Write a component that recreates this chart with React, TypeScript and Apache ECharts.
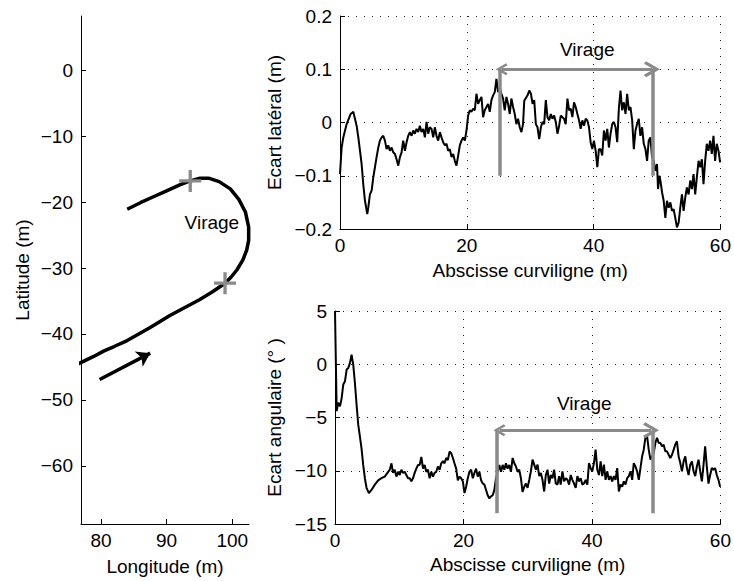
import React, { useEffect, useRef } from "react";
import * as echarts from "echarts";

// ---- Left panel: trajectory (longitude, latitude in m)
const trajLon = [84, 86, 88, 90, 92, 93.6, 95.1, 96.5, 98, 99.7, 101, 102, 102.5, 102.5, 102.2, 101.6, 100.7, 99.8, 98.9, 97, 95, 92, 90.5, 87.5, 84, 82, 80.4, 78.9, 77, 76];
const trajLat = [-21.1, -20.1, -19.2, -18.3, -17.4, -16.8, -16.4, -16.4, -16.9, -18.0, -19.6, -21.5, -23.8, -25.8, -27.3, -28.8, -30.3, -31.4, -32.3, -33.6, -34.8, -36.4, -37.2, -39.0, -41.0, -41.9, -42.6, -43.4, -44.3, -44.8];
const turnMarksLon = [93.6, 98.9];
const turnMarksLat = [-16.8, -32.3];
const dirArrowLon = [79.8, 87.5];
const dirArrowLat = [-46.9, -42.9];
const lonTicks = [80, 90, 100];
const latTicks = [0, -10, -20, -30, -40, -50, -60];

// ---- Top right: lateral deviation (m) vs curvilinear abscissa (m)
const lateralS = [0, 0.26, 0.52, 1.05, 1.68, 2.1, 2.36, 2.62, 2.89, 3.15, 3.41, 3.67, 3.94, 4.3, 4.46, 4.72, 4.99, 5.25, 5.51, 5.77, 6.04, 6.3, 6.56, 6.82, 7.09, 7.35, 7.61, 7.87, 8.14, 8.4, 8.66, 8.92, 9.19, 9.45, 9.71, 9.97, 10.24, 10.5, 10.76, 11.02, 11.29, 11.55, 11.81, 12.07, 12.34, 12.6, 12.86, 13.12, 13.39, 13.65, 13.91, 14.17, 14.44, 14.7, 14.96, 15.22, 15.49, 15.75, 16.01, 16.27, 16.54, 16.8, 17.06, 17.32, 17.59, 17.85, 18.11, 18.37, 18.64, 18.9, 19.16, 19.42, 19.69, 19.95, 20.21, 20.47, 20.73, 21.0, 21.26, 21.52, 21.78, 22.05, 22.31, 22.57, 22.83, 23.1, 23.36, 23.62, 23.88, 24.15, 24.41, 24.67, 24.93, 25.2, 25.46, 25.72, 25.98, 26.25, 26.51, 26.77, 27.03, 27.3, 27.56, 27.82, 28.08, 28.35, 28.61, 28.87, 29.06, 29.58, 29.85, 30.11, 30.37, 30.63, 30.89, 31.15, 31.42, 31.68, 31.94, 32.2, 32.46, 32.72, 32.99, 33.25, 33.51, 33.77, 34.03, 34.3, 34.56, 34.82, 35.08, 35.34, 35.6, 35.87, 36.13, 36.39, 36.65, 36.91, 37.17, 37.44, 37.7, 37.96, 38.22, 38.48, 38.75, 39.01, 39.27, 39.53, 39.79, 40.05, 40.32, 40.58, 40.84, 41.1, 41.36, 41.62, 41.89, 42.15, 42.41, 42.67, 42.93, 43.2, 43.46, 43.72, 43.98, 44.24, 44.5, 44.77, 45.03, 45.29, 45.55, 45.81, 46.08, 46.34, 46.6, 46.86, 47.12, 47.38, 47.65, 47.91, 48.17, 48.43, 48.69, 48.95, 49.22, 49.48, 49.74, 50.0, 50.16, 50.37, 50.53, 50.79, 51.05, 51.31, 51.57, 51.84, 52.1, 52.36, 52.62, 52.88, 53.14, 53.41, 53.67, 53.93, 54.19, 54.45, 54.71, 54.98, 55.24, 55.5, 55.76, 56.02, 56.28, 56.55, 56.81, 57.07, 57.33, 57.59, 57.85, 58.12, 58.38, 58.64, 58.9, 59.16, 59.42, 59.69, 59.95];
const lateralE = [-0.097, -0.047, -0.028, -0.003, 0.016, 0.02, 0.007, -0.006, -0.028, -0.053, -0.078, -0.116, -0.147, -0.172, -0.16, -0.135, -0.128, -0.103, -0.084, -0.065, -0.047, -0.034, -0.028, -0.025, -0.034, -0.05, -0.043, -0.053, -0.047, -0.056, -0.059, -0.069, -0.081, -0.065, -0.056, -0.034, -0.053, -0.037, -0.025, -0.018, -0.025, -0.015, -0.021, -0.012, -0.018, -0.006, -0.018, -0.012, -0.028, 0.001, -0.021, -0.009, -0.012, -0.028, -0.009, -0.025, -0.034, -0.018, -0.028, -0.037, -0.043, -0.04, -0.053, -0.05, -0.065, -0.059, -0.072, -0.081, -0.062, -0.043, -0.034, -0.028, -0.034, -0.015, 0.013, 0.023, 0.02, 0.026, 0.023, 0.054, 0.035, 0.042, 0.048, 0.01, 0.023, 0.029, 0.035, 0.02, 0.042, 0.051, 0.057, 0.082, 0.057, 0.064, 0.054, 0.045, 0.023, 0.048, 0.035, 0.016, 0.045, 0.029, 0.016, -0.003, 0.007, -0.009, -0.018, -0.003, 0.041, 0.051, 0.06, 0.054, 0.035, 0.042, -0.003, -0.009, -0.031, -0.009, 0.001, -0.003, 0.042, 0.01, 0.004, 0.016, 0.007, 0.013, 0.001, -0.021, -0.006, 0.013, 0.01, 0.007, -0.003, 0.045, 0.023, 0.026, 0.01, 0.038, 0.029, 0.016, 0.004, -0.012, 0.004, -0.006, 0.007, 0.004, -0.009, -0.037, -0.05, -0.034, -0.053, -0.084, -0.05, -0.05, -0.062, -0.015, -0.034, -0.012, -0.047, -0.021, -0.003, 0.001, -0.009, -0.037, 0.026, 0.06, 0.023, 0.038, 0.016, 0.054, 0.023, 0.029, 0.004, -0.05, -0.015, -0.003, 0.007, -0.025, -0.009, -0.04, -0.05, -0.072, -0.034, -0.028, -0.065, -0.072, -0.091, -0.078, -0.125, -0.1, -0.109, -0.131, -0.147, -0.179, -0.147, -0.16, -0.15, -0.166, -0.163, -0.179, -0.197, -0.188, -0.16, -0.135, -0.166, -0.141, -0.122, -0.135, -0.109, -0.125, -0.097, -0.135, -0.103, -0.072, -0.084, -0.069, -0.116, -0.072, -0.04, -0.053, -0.034, -0.059, -0.025, -0.072, -0.04, -0.053, -0.075];

// ---- Bottom right: angular deviation (deg) vs curvilinear abscissa (m)
const angularS = [0, 0.26, 0.52, 0.78, 1.03, 1.29, 1.55, 1.81, 2.07, 2.33, 2.58, 2.84, 3.1, 3.36, 3.62, 3.88, 4.13, 4.39, 4.65, 4.91, 5.27, 5.68, 6.2, 6.72, 7.23, 7.75, 8.27, 8.53, 8.79, 9.04, 9.3, 9.56, 9.82, 10.08, 10.34, 10.59, 10.85, 11.11, 11.37, 11.63, 11.89, 12.14, 12.4, 12.66, 12.92, 13.18, 13.44, 13.7, 13.95, 14.21, 14.47, 14.73, 14.99, 15.25, 15.5, 15.76, 16.02, 16.28, 16.54, 16.8, 17.05, 17.31, 17.57, 17.83, 18.09, 18.35, 18.6, 18.86, 19.12, 19.38, 19.64, 19.9, 20.16, 20.41, 20.67, 20.93, 21.19, 21.45, 21.71, 21.96, 22.22, 22.48, 22.74, 23.0, 23.26, 23.51, 23.77, 24.03, 24.29, 24.55, 24.81, 25.06, 25.58, 25.84, 26.1, 26.36, 26.61, 26.87, 27.13, 27.39, 27.65, 27.91, 28.17, 28.42, 28.68, 28.94, 29.2, 29.46, 29.72, 29.98, 30.24, 30.49, 30.75, 31.01, 31.27, 31.53, 31.79, 32.04, 32.3, 32.56, 32.82, 33.08, 33.34, 33.59, 33.85, 34.11, 34.37, 34.63, 34.89, 35.14, 35.4, 35.66, 35.92, 36.18, 36.44, 36.7, 36.95, 37.21, 37.47, 37.73, 37.99, 38.25, 38.5, 38.76, 39.02, 39.28, 39.54, 39.8, 40.05, 40.31, 40.57, 40.83, 41.09, 41.35, 41.6, 41.86, 42.12, 42.38, 42.64, 42.9, 43.15, 43.41, 43.67, 43.93, 44.19, 44.45, 44.71, 44.96, 45.22, 45.48, 45.74, 46.0, 46.26, 46.51, 46.77, 47.03, 47.29, 47.55, 47.81, 48.06, 48.32, 48.58, 48.84, 49.1, 49.62, 49.87, 50.13, 50.39, 50.65, 50.91, 51.17, 51.42, 51.68, 51.94, 52.2, 52.46, 52.72, 52.97, 53.23, 53.49, 53.75, 54.01, 54.27, 54.53, 54.78, 55.04, 55.3, 55.56, 55.82, 56.08, 56.33, 56.59, 56.85, 57.11, 57.37, 57.62, 57.88, 58.14, 58.4, 58.66, 58.92, 59.17, 59.43, 59.69, 59.95];
const angularE = [5.0, -4.4, -3.6, -3.95, -3.2, -1.9, -1.6, -0.5, -0.35, 0.13, 0.9, -0.03, -1.76, -3.8, -5.7, -6.8, -7.9, -9.45, -10.7, -11.6, -12.1, -11.8, -11.3, -10.9, -10.7, -10.55, -10.1, -9.9, -9.3, -10.2, -9.9, -10.55, -10.1, -10.4, -9.9, -10.2, -10.1, -10.4, -10.7, -10.7, -11.0, -10.7, -10.2, -9.8, -9.45, -9.45, -8.7, -9.8, -9.45, -10.1, -9.9, -10.7, -10.1, -10.55, -10.2, -10.1, -9.6, -9.9, -9.3, -9.1, -9.3, -8.8, -9.0, -8.2, -8.35, -8.8, -9.3, -9.8, -10.9, -10.55, -10.7, -11.0, -12.1, -11.5, -10.7, -10.1, -9.9, -10.7, -10.2, -9.8, -10.55, -10.1, -10.9, -11.2, -11.3, -11.8, -12.3, -12.6, -12.4, -12.3, -11.8, -10.7, -9.45, -10.1, -9.45, -9.9, -9.3, -9.8, -9.45, -10.1, -8.8, -9.3, -9.6, -10.1, -9.9, -10.7, -12.0, -11.5, -11.2, -11.6, -10.85, -10.06, -8.96, -9.43, -9.9, -9.43, -10.5, -10.2, -10.85, -11.95, -10.4, -9.9, -11.2, -10.4, -10.7, -9.9, -11.2, -11.3, -10.5, -11.3, -10.06, -11.0, -10.7, -10.85, -11.3, -10.4, -10.85, -11.2, -11.6, -10.5, -11.0, -10.7, -11.3, -11.2, -10.85, -11.3, -9.28, -9.75, -10.06, -9.28, -8.02, -9.9, -10.4, -9.12, -10.5, -9.43, -10.85, -10.06, -10.85, -10.5, -11.0, -10.5, -10.85, -9.75, -11.95, -11.3, -11.5, -11.0, -11.3, -10.7, -10.5, -10.06, -10.85, -9.28, -9.6, -10.06, -10.85, -9.75, -8.65, -8.02, -6.9, -6.76, -8.02, -8.96, -8.33, -7.4, -6.9, -7.4, -7.4, -7.7, -7.55, -8.18, -8.18, -8.5, -8.8, -8.5, -8.02, -7.55, -7.23, -8.65, -9.28, -10.06, -9.12, -8.65, -9.75, -10.4, -9.43, -9.12, -10.06, -10.5, -9.6, -8.96, -10.06, -11.0, -9.43, -7.7, -9.6, -11.2, -10.4, -9.75, -9.9, -9.75, -10.4, -10.85, -11.5];

// ---- "Virage" (turn) annotations
const turnStart = 25.2;
const turnEnd = 49.4;
const lateralBracket = [0.1, -0.1];
const angularBracket = [-6.2, -14];
const turnLabel = "Virage";

const FONT = '"Liberation Sans", Arial, Helvetica, sans-serif';
const GRAY = "#8a8a8a";
const CHEVRON = "path://M5,0 L10,8 L8.4,9.2 L5,3.6 L1.6,9.2 L0,8 Z";
const PLUS = "path://M8.5,0 H11.5 V8.5 H20 V11.5 H11.5 V20 H8.5 V11.5 H0 V8.5 H8.5 Z";

const fmt = (v: number) => {
  const r = Math.round(v * 1000) / 1000;
  return r === 0 ? "0" : String(r).replace("-", "\u2212");
};

const textStyle = { fontFamily: FONT, fontSize: 19, color: "#000" };

function valueAxis(extra: any) {
  return {
    type: "value",
    axisLine: { show: true, onZero: false, lineStyle: { color: "#000", width: 1 } },
    axisTick: { show: true, inside: true, length: 5, lineStyle: { color: "#000" } },
    axisLabel: { ...textStyle, margin: 8, formatter: fmt },
    nameTextStyle: textStyle,
    nameLocation: "middle",
    ...extra,
  };
}

function textMark(xIdx: number, point: number[]) {
  return {
    type: "scatter", xAxisIndex: xIdx, yAxisIndex: xIdx, symbolSize: 0, silent: true, z: 5,
    itemStyle: { opacity: 1, color: "#000" },
    data: [point],
    label: { show: true, position: "inside", formatter: turnLabel, ...textStyle, opacity: 1, textBorderWidth: 0 },
  };
}

const dotted = { show: true, lineStyle: { color: "#222", type: [1, 7], width: 1 } };

export default function App() {
  const ref = useRef<HTMLDivElement>(null);
  useEffect(() => {
    if (!ref.current) return;
    const chart = echarts.init(ref.current, undefined, { renderer: "svg" });
    const option: any = {
      animation: false,
      backgroundColor: "#fff",
      textStyle: { fontFamily: FONT },
      grid: [
        { left: 81, top: 16, width: 168, height: 508 },
        { left: 340, top: 16, width: 382, height: 213 },
        { left: 335, top: 311, width: 387, height: 213 },
      ],
      xAxis: [
        valueAxis({
          gridIndex: 0, min: 76.96, max: 102.55, name: "Longitude (m)", nameGap: 33,
          splitLine: { show: false },
          axisTick: { show: true, inside: true, length: 5, lineStyle: { color: "#000" }, customValues: lonTicks },
          axisLabel: { ...textStyle, margin: 7, formatter: fmt, customValues: lonTicks },
        }),
        valueAxis({ gridIndex: 1, min: 0, max: 60, interval: 20, name: "Abscisse curviligne (m)", nameGap: 32, splitLine: dotted, axisLabel: { ...textStyle, margin: 7, formatter: fmt } }),
        valueAxis({ gridIndex: 2, min: 0, max: 60, interval: 20, name: "Abscisse curviligne (m)", nameGap: 31, splitLine: dotted, axisLabel: { ...textStyle, margin: 7, formatter: fmt } }),
      ],
      yAxis: [
        valueAxis({
          gridIndex: 0, min: -68.8, max: 8.2, name: "Latitude (m)", nameGap: 49,
          splitLine: { show: false },
          axisTick: { show: true, inside: true, length: 5, lineStyle: { color: "#000" }, customValues: latTicks },
          axisLabel: { ...textStyle, margin: 8, formatter: fmt, customValues: latTicks },
        }),
        valueAxis({ gridIndex: 1, min: -0.2, max: 0.2, interval: 0.1, name: "Ecart lat\u00e9ral (m)", nameGap: 53, splitLine: dotted }),
        valueAxis({ gridIndex: 2, min: -15, max: 5, interval: 5, name: "Ecart angulaire (\u00b0 )", nameGap: 48, splitLine: dotted }),
      ],
      series: [
        {
          type: "line", xAxisIndex: 0, yAxisIndex: 0, showSymbol: false, symbol: "none",
          data: trajLon.map((x, i) => [x, trajLat[i]]),
          lineStyle: { color: "#000", width: 3.5 }, z: 3,
        },
        {
          type: "scatter", xAxisIndex: 0, yAxisIndex: 0, symbol: PLUS, symbolSize: 22,
          itemStyle: { color: GRAY, opacity: 1 }, z: 4,
          data: turnMarksLon.map((x, i) => [x, turnMarksLat[i]]),
        },
        {
          type: "lines", coordinateSystem: "cartesian2d", xAxisIndex: 0, yAxisIndex: 0,
          symbol: ["none", "arrow"], symbolSize: 13,
          lineStyle: { color: "#000", width: 3.5, opacity: 1 },
          data: [{ coords: dirArrowLon.map((x, i) => [x, dirArrowLat[i]]) }],
        },
        textMark(0, [96.9, -23.1]),
        {
          type: "line", xAxisIndex: 1, yAxisIndex: 1, showSymbol: false, symbol: "none",
          data: lateralS.map((x, i) => [x, lateralE[i]]),
          lineStyle: { color: "#000", width: 2 }, z: 3,
        },
        {
          type: "lines", coordinateSystem: "cartesian2d", xAxisIndex: 1, yAxisIndex: 1,
          symbol: "none", lineStyle: { color: GRAY, width: 3.5, opacity: 1 }, z: 4,
          data: [
            { coords: [[turnStart, lateralBracket[0]], [turnStart, lateralBracket[1]]] },
            { coords: [[turnEnd, lateralBracket[0]], [turnEnd, lateralBracket[1]]] },
          ],
        },
        {
          type: "lines", coordinateSystem: "cartesian2d", xAxisIndex: 1, yAxisIndex: 1,
          symbol: [CHEVRON, CHEVRON], symbolSize: [12, 16], lineStyle: { color: GRAY, width: 3, opacity: 1 }, z: 4,
          data: [{ coords: [[turnStart + 0.3, lateralBracket[0]], [turnEnd - 0.2, lateralBracket[0]]] }],
        },
        textMark(1, [39, 0.138]),
        {
          type: "line", xAxisIndex: 2, yAxisIndex: 2, showSymbol: false, symbol: "none",
          data: angularS.map((x, i) => [x, angularE[i]]),
          lineStyle: { color: "#000", width: 2 }, z: 3,
        },
        {
          type: "lines", coordinateSystem: "cartesian2d", xAxisIndex: 2, yAxisIndex: 2,
          symbol: "none", lineStyle: { color: GRAY, width: 3.5, opacity: 1 }, z: 4,
          data: [
            { coords: [[turnStart, angularBracket[0]], [turnStart, angularBracket[1]]] },
            { coords: [[turnEnd, angularBracket[0]], [turnEnd, angularBracket[1]]] },
          ],
        },
        {
          type: "lines", coordinateSystem: "cartesian2d", xAxisIndex: 2, yAxisIndex: 2,
          symbol: [CHEVRON, CHEVRON], symbolSize: [12, 16], lineStyle: { color: GRAY, width: 3, opacity: 1 }, z: 4,
          data: [{ coords: [[turnStart + 0.4, angularBracket[0]], [turnEnd - 0.2, angularBracket[0]]] }],
        },
        textMark(2, [38.8, -3.66]),
      ],
    };
    chart.setOption(option);
    return () => chart.dispose();
  }, []);
  return (
    <div
      ref={ref}
      style={{ position: "absolute", left: 0, top: 0, width: 734, height: 581, background: "#fff" }}
    />
  );
}
